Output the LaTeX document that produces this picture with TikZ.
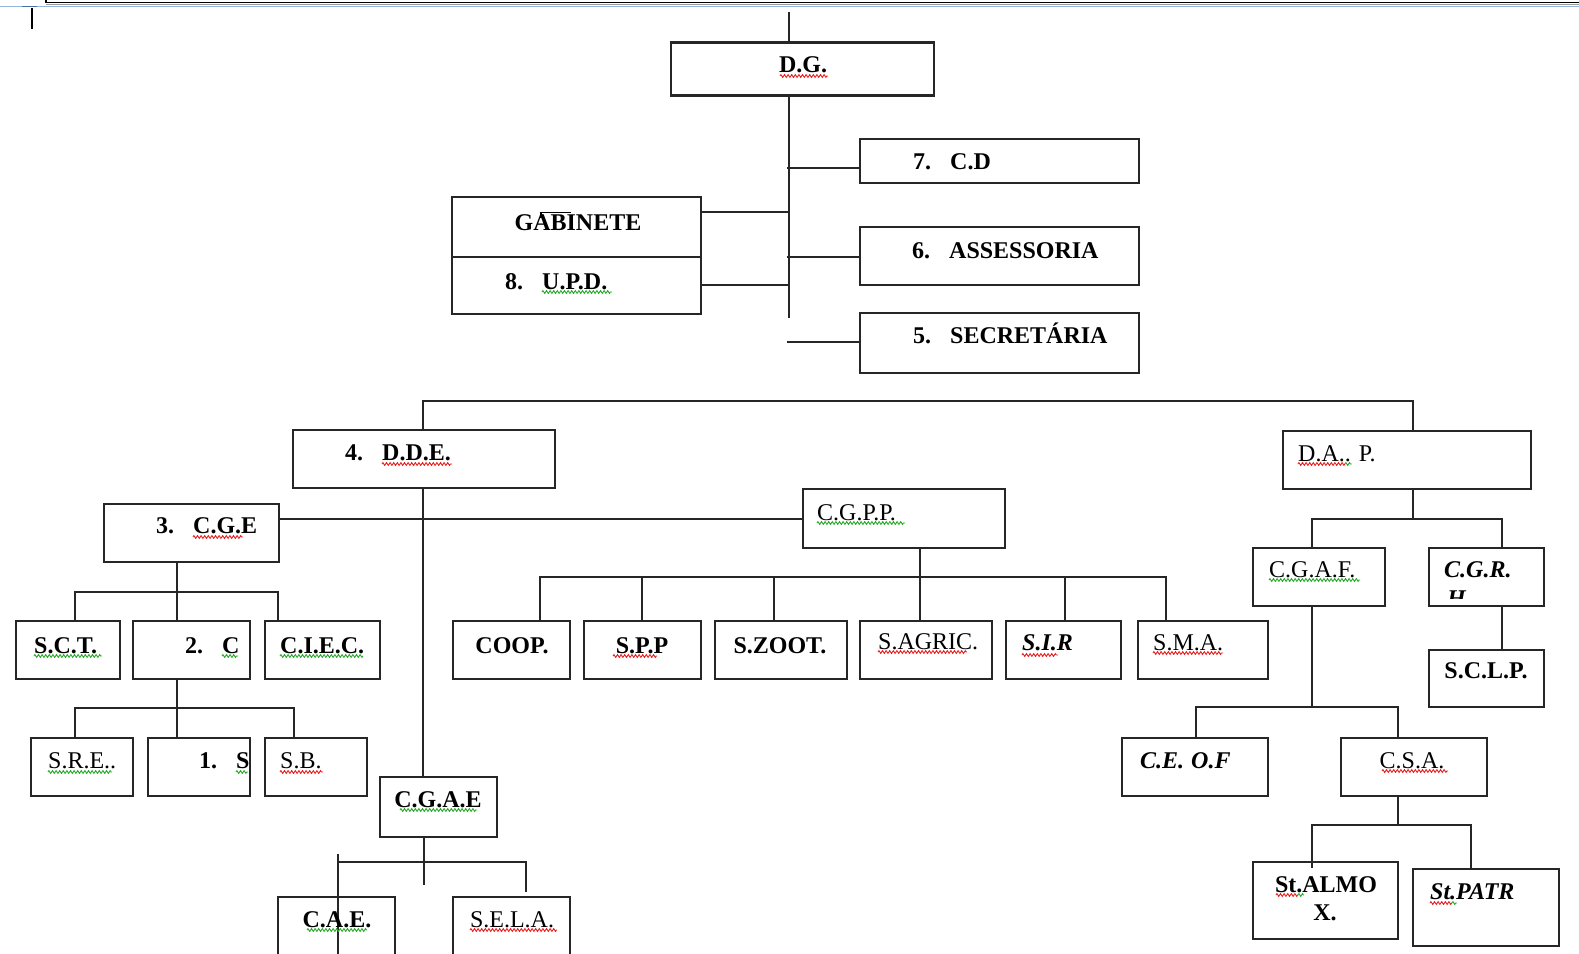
\documentclass[tikz,border=0pt]{standalone}
\usepackage{fontspec}
\setmainfont{Liberation Serif}
\usetikzlibrary{decorations.pathmorphing}
\definecolor{spellred}{RGB}{235,30,30}
\definecolor{spellgreen}{RGB}{40,170,40}
\definecolor{rulerblue}{RGB}{150,180,225}
\definecolor{rulerdark}{RGB}{70,110,170}
\newcommand{\boxnode}[5]{\node[box, minimum width={(#4-#2)*1pt}, minimum height={(#5-#3)*1pt}] (#1) at (#2,#3) {};}
\newcommand{\numitem}[2]{\makebox[37pt][l]{#1}#2}
\begin{document}
\begin{tikzpicture}[x=1pt,y=-1pt,
  box/.style={draw=black!85, line width=1.5pt, rectangle, inner sep=0pt, outer sep=0pt, anchor=north west},
  conn/.style={draw=black!85, line width=1.5pt},
  tb/.style={font=\fontsize{24}{28}\selectfont\bfseries, inner sep=0pt, text=black},
  tr/.style={font=\fontsize{24}{28}\selectfont, inner sep=0pt, text=black},
  tbi/.style={font=\fontsize{24}{28}\selectfont\bfseries\itshape, inner sep=0pt, text=black},
  squig/.style={draw=#1, line width=0.9pt, decorate, decoration={zigzag, amplitude=1.4pt, segment length=3.6pt}}
]
\useasboundingbox (0,0) rectangle (1579,953);
\fill[white] (0,0) rectangle (1579,953);

% window artifacts at the top
\draw[black, line width=1.5pt] (46,0) -- (46,2.5) -- (1579,2.5);
\draw[black!40, line width=0.8pt] (46,4.2) -- (1579,4.2);
\draw[rulerblue, line width=1.2pt] (0,6.5) -- (1579,6.5);
\draw[rulerdark, line width=1.2pt] (22,6.5) -- (37,6.5);
\draw[black, line width=2.2pt] (32,8) -- (32,29);

% boxes
\boxnode{dg}{671}{42}{934}{96}
\draw[black!85, line width=1pt] (671,43.5) -- (934,43.5) (671,94.5) -- (934,94.5);
\boxnode{cd}{860}{139}{1139}{183}
\boxnode{gab}{452}{197}{701}{257}
\boxnode{upd}{452}{257}{701}{314}
\boxnode{ass}{860}{227}{1139}{285}
\boxnode{sec}{860}{313}{1139}{373}
\boxnode{dde}{293}{430}{555}{488}
\boxnode{dap}{1283}{431}{1531}{489}
\boxnode{cge}{104}{504}{279}{562}
\boxnode{cgpp}{803}{489}{1005}{548}
\boxnode{sct}{16}{621}{120}{679}
\boxnode{ctwo}{133}{621}{250}{679}
\boxnode{ciec}{265}{621}{380}{679}
\boxnode{sre}{31}{738}{133}{796}
\boxnode{sone}{148}{738}{250}{796}
\boxnode{sb}{265}{738}{367}{796}
\boxnode{cgae}{380}{777}{497}{837}
\boxnode{cae}{278}{897}{395}{975}
\boxnode{sela}{453}{897}{570}{975}
\boxnode{coop}{453}{621}{570}{679}
\boxnode{spp}{584}{621}{701}{679}
\boxnode{szoot}{715}{621}{847}{679}
\boxnode{sagric}{860}{621}{992}{679}
\boxnode{sir}{1006}{621}{1121}{679}
\boxnode{sma}{1138}{621}{1268}{679}
\boxnode{cgaf}{1253}{548}{1385}{606}
\boxnode{cgrh}{1429}{548}{1544}{606}
\boxnode{sclp}{1429}{650}{1544}{707}
\boxnode{ceof}{1122}{738}{1268}{796}
\boxnode{csa}{1341}{738}{1487}{796}
\boxnode{salmox}{1253}{862}{1398}{939}
\boxnode{spatr}{1413}{869}{1559}{946}

% connectors
\coordinate (topend) at (789,12);
\coordinate (spineend) at (789,318);
\draw[conn] (topend) -- (dg.north -| topend);
\draw[conn] (dg.south -| spineend) -- (spineend);
\draw[conn] (cd.west |- 0,168) -- (787,168);
\draw[conn] (gab.east |- 0,212) -- (789,212);
\draw[conn] (upd.east |- 0,285) -- (789,285);
\draw[conn] (ass.west |- 0,257) -- (787,257);
\draw[conn] (sec.west |- 0,342) -- (787,342);

\draw[conn] (dde.north -| 423,0) -- (423,401) -- (1413,401) -- (dap.north -| 1413,0);
\draw[conn] (dde.south -| 423,0) -- (cgae.north -| 423,0);
\draw[conn] (cge.east |- 0,519) -- (cgpp.west |- 0,519);

\draw[conn] (cge.south -| 177,0) -- (ctwo.north -| 177,0);
\draw[conn] (sct.north -| 75,0) -- (75,592) -- (278,592) -- (ciec.north -| 278,0);
\draw[conn] (ctwo.south -| 177,0) -- (sone.north -| 177,0);
\draw[conn] (sre.north -| 75,0) -- (75,708) -- (294,708) -- (sb.north -| 294,0);

\draw[conn] (cgae.south -| 424,0) -- (424,885);
\draw[conn] (526,892) -- (526,862) -- (338,862);
\draw[conn] (338,854) -- (cae.south -| 338,0);

\draw[conn] (cgpp.south -| 920,0) -- (sagric.north -| 920,0);
\draw[conn] (coop.north -| 540,0) -- (540,577) -- (1166,577) -- (sma.north -| 1166,0);
\draw[conn] (spp.north -| 642,0) -- (642,577);
\draw[conn] (szoot.north -| 774,0) -- (774,577);
\draw[conn] (sir.north -| 1065,0) -- (1065,577);

\draw[conn] (dap.south -| 1413,0) -- (1413,519);
\draw[conn] (cgaf.north -| 1312,0) -- (1312,519) -- (1502,519) -- (cgrh.north -| 1502,0);
\draw[conn] (cgrh.south -| 1502,0) -- (sclp.north -| 1502,0);
\draw[conn] (cgaf.south -| 1312,0) -- (1312,707);
\draw[conn] (ceof.north -| 1196,0) -- (1196,707) -- (1398,707) -- (csa.north -| 1398,0);
\draw[conn] (csa.south -| 1398,0) -- (1398,825);
\draw[conn] (1312,868) -- (1312,825) -- (1471,825) -- (spatr.north -| 1471,0);

% texts
\node[tb, anchor=base] (t-dg) at (803,72) {D.G.};
\node[tb, anchor=base west] (t-cd) at (913,169) {\numitem{7.}{C.D}};
\node[tb, anchor=base] (t-gab) at (578,230) {GABINETE};
\draw[black, line width=1.2pt] (541,218) -- (541,212.5) -- (571,212.5);
\node[tb, anchor=base west] (t-upd) at (505,289) {\numitem{8.}{U.P.D.}};
\node[tb, anchor=base west] (t-ass) at (912,258) {\numitem{6.}{ASSESSORIA}};
\node[tb, anchor=base west] (t-sec) at (913,343) {\numitem{5.}{SECRETÁRIA}};
\node[tb, anchor=base west] (t-dde) at (345,460) {\numitem{4.}{D.D.E.}};
\node[tr, anchor=base west] (t-dap) at (1298,461) {D.A.. P.};
\node[tb, anchor=base west] (t-cge) at (156,533) {\numitem{3.}{C.G.E}};
\node[tr, anchor=base west] (t-cgpp) at (817,520) {C.G.P.P.};
\node[tb, anchor=base west] (t-sct) at (34,653) {S.C.T.};
\node[tb, anchor=base west] (t-ctwo) at (185,653) {\numitem{2.}{C}};
\node[tb, anchor=base west] (t-ciec) at (280,653) {C.I.E.C.};
\node[tb, anchor=base] (t-coop) at (512,653) {COOP.};
\node[tb, anchor=base] (t-spp) at (642,653) {S.P.P};
\node[tb, anchor=base] (t-szoot) at (780,653) {S.ZOOT.};
\node[tr, anchor=base west] (t-sagric) at (878,649) {S.AGRIC.};
\node[tbi, anchor=base west] (t-sir) at (1022,650) {S.I.R};
\node[tr, anchor=base west] (t-sma) at (1153,650) {S.M.A.};
\node[tr, anchor=base west] (t-cgaf) at (1269,577) {C.G.A.F.};
\begin{scope}
\clip (1429,548) rectangle (1544,598);
\node[tbi, anchor=base west] (t-cgrh) at (1444,577) {C.G.R.};
\node[tbi, anchor=base west] (t-cgrh2) at (1447,606) {H};
\end{scope}
\node[tb, anchor=base] (t-sclp) at (1486,678) {S.C.L.P.};
\node[tr, anchor=base west] (t-sre) at (48,768) {S.R.E..};
\node[tb, anchor=base west] (t-sone) at (199,768) {\numitem{1.}{S}};
\node[tr, anchor=base west] (t-sb) at (280,768) {S.B.};
\node[tbi, anchor=base west] (t-ceof) at (1140,768) {C.E.\hspace{7pt}O.F};
\node[tr, anchor=base] (t-csa) at (1412,768) {C.S.A.};
\node[tb, anchor=base] (t-cgae) at (438,807) {C.G.A.E};
\node[tb, anchor=base] (t-salmo) at (1326,892) {St.ALMO};
\node[tb, anchor=base] (t-salmox) at (1325,920) {X.};
\node[tbi, anchor=base west] (t-spatr) at (1430,899) {St.PATR};
\node[tb, anchor=base] (t-cae) at (337,927) {C.A.E.};
\node[tr, anchor=base] (t-sela) at (512,927) {S.E.L.A.};

% spell-check squiggles
\draw[squig=spellred] (780,76) -- (828,76);
\draw[squig=spellgreen] (542,292) -- (612,292);
\draw[squig=spellred] (382,464) -- (452,464);
\draw[squig=spellred] (193,537) -- (243,537);
\draw[squig=spellgreen] (34,656) -- (102,656);
\draw[squig=spellgreen] (222,656) -- (238,656);
\draw[squig=spellgreen] (280,656) -- (363,656);
\draw[squig=spellgreen] (48,772) -- (112,772);
\draw[squig=spellgreen] (236,772) -- (248,772);
\draw[squig=spellred] (280,772) -- (323,772);
\draw[squig=spellgreen] (400,810) -- (477,810);
\draw[squig=spellgreen] (307,930) -- (367,930);
\draw[squig=spellred] (470,930) -- (557,930);
\draw[squig=spellgreen] (817,523) -- (905,523);
\draw[squig=spellred] (613,656) -- (657,656);
\draw[squig=spellred] (878,652) -- (967,652);
\draw[squig=spellred] (1022,655) -- (1058,655);
\draw[squig=spellred] (1153,653) -- (1223,653);
\draw[squig=spellred] (1298,464) -- (1345,464);
\draw[squig=spellgreen] (1345,464) -- (1352,464);
\draw[squig=spellgreen] (1269,580) -- (1360,580);
\draw[squig=spellred] (1382,771) -- (1448,771);
\draw[squig=spellred] (1276,895) -- (1298,895);
\draw[squig=spellgreen] (1298,895) -- (1304,895);
\draw[squig=spellred] (1430,903) -- (1452,903);
\draw[squig=spellgreen] (1452,903) -- (1457,903);
\end{tikzpicture}
\end{document}
